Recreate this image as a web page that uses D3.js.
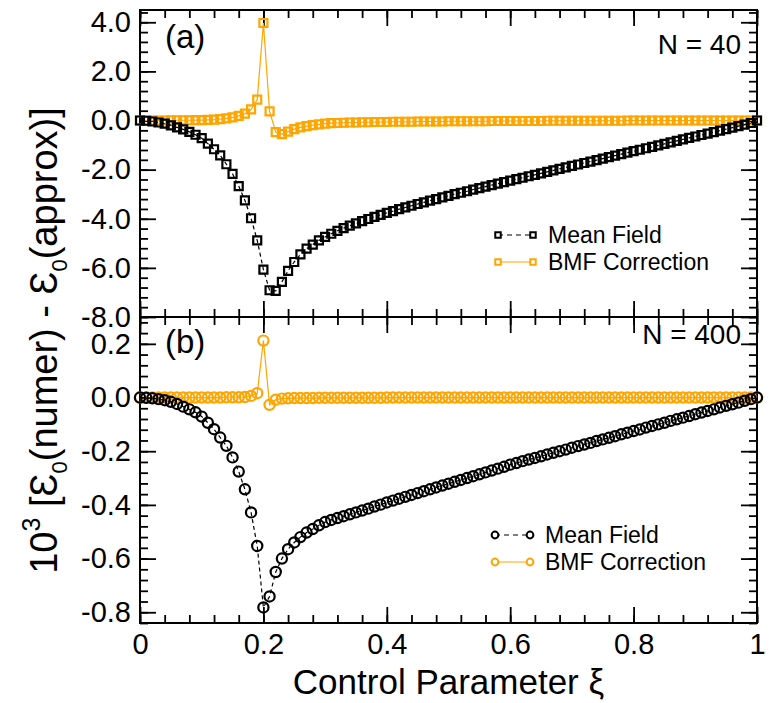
<!DOCTYPE html>
<html>
<head>
<meta charset="utf-8">
<script src="https://cdn.jsdelivr.net/npm/d3@7"></script>
<style>
body { margin: 0; background: #fff; }
text { font-family: "Liberation Sans", Arial, sans-serif; fill: #000; }
</style>
</head>
<body>
<svg id="vis"></svg>
<script>
// control parameter grid, 0 .. 1 in steps of 0.01
var xi = d3.range(0, 101).map(function (i) { return i / 100; });

// panel (a), N = 40
var meanField40 = [
    0, -0.01, -0.04, -0.08, -0.13, -0.20, -0.28, -0.36, -0.46, -0.58,
    -0.72, -0.94, -1.17, -1.42, -1.78, -2.17, -2.67, -3.25, -3.98, -4.88,
    -6.07, -6.91, -6.94, -6.57, -6.12, -5.76, -5.45, -5.22, -5.05, -4.88,
    -4.74, -4.61, -4.49, -4.38, -4.28, -4.19, -4.10, -4.01, -3.92, -3.84,
    -3.76, -3.69, -3.61, -3.54, -3.47, -3.40, -3.33, -3.26, -3.20, -3.13,
    -3.07, -3.00, -2.94, -2.88, -2.81, -2.75, -2.69, -2.63, -2.57, -2.51,
    -2.45, -2.39, -2.33, -2.27, -2.21, -2.15, -2.09, -2.03, -1.97, -1.91,
    -1.85, -1.79, -1.73, -1.67, -1.61, -1.55, -1.49, -1.43, -1.37, -1.31,
    -1.25, -1.19, -1.13, -1.07, -1.01, -0.95, -0.89, -0.83, -0.77, -0.71,
    -0.65, -0.59, -0.53, -0.47, -0.41, -0.35, -0.29, -0.23, -0.17, -0.10,
    0
];
var bmf40 = [
    0, 0, 0, 0, 0, 0.01, 0.01, 0.01, 0.01, 0.02,
    0.02, 0.03, 0.04, 0.06, 0.09, 0.13, 0.19, 0.28, 0.45, 0.85,
    3.97, 0.37, -0.47, -0.55, -0.45, -0.35, -0.28, -0.23, -0.19, -0.16,
    -0.13, -0.11, -0.10, -0.09, -0.08, -0.08, -0.07, -0.07, -0.06, -0.06,
    -0.06, -0.05, -0.05, -0.05, -0.05, -0.04, -0.04, -0.04, -0.04, -0.04,
    -0.03, -0.03, -0.03, -0.03, -0.03, -0.03, -0.03, -0.02, -0.02, -0.02,
    -0.02, -0.02, -0.02, -0.02, -0.02, -0.02, -0.01, -0.01, -0.01, -0.01,
    -0.01, -0.01, -0.01, -0.01, -0.01, -0.01, -0.01, -0.01, -0.01, 0,
    0, 0, 0, 0, 0, 0, 0, 0, 0, 0,
    0, 0, 0, 0, 0, 0, 0, 0, 0, 0,
    0
];

// panel (b), N = 400
var meanField400 = [
    0, -0.001, -0.003, -0.006, -0.010, -0.016, -0.024, -0.034, -0.044, -0.055,
    -0.071, -0.094, -0.118, -0.149, -0.180, -0.223, -0.276, -0.342, -0.428, -0.553,
    -0.782, -0.741, -0.650, -0.600, -0.565, -0.540, -0.520, -0.503, -0.490, -0.476,
    -0.464, -0.456, -0.449, -0.442, -0.435, -0.428, -0.421, -0.414, -0.406, -0.399,
    -0.391, -0.384, -0.377, -0.370, -0.363, -0.356, -0.349, -0.342, -0.335, -0.328,
    -0.321, -0.314, -0.307, -0.300, -0.293, -0.286, -0.279, -0.272, -0.265, -0.258,
    -0.250, -0.244, -0.237, -0.231, -0.225, -0.219, -0.212, -0.206, -0.200, -0.194,
    -0.187, -0.181, -0.175, -0.169, -0.162, -0.156, -0.150, -0.144, -0.137, -0.131,
    -0.125, -0.119, -0.112, -0.106, -0.100, -0.094, -0.087, -0.081, -0.075, -0.069,
    -0.062, -0.056, -0.050, -0.044, -0.037, -0.031, -0.025, -0.019, -0.012, -0.006,
    0
];
var bmf400 = [
    0, 0, 0, 0, 0, 0, 0, 0, 0, 0,
    0, 0, 0, 0, 0.001, 0.001, 0.001, 0.002, 0.006, 0.016,
    0.212, -0.027, -0.008, -0.004, -0.003, -0.002, -0.002, -0.002, -0.002, -0.001,
    -0.001, -0.001, -0.001, -0.001, -0.001, -0.001, -0.001, -0.001, -0.001, -0.001,
    0, 0, 0, 0, 0, 0, 0, 0, 0, 0,
    0, 0, 0, 0, 0, 0, 0, 0, 0, 0,
    0, 0, 0, 0, 0, 0, 0, 0, 0, 0,
    0, 0, 0, 0, 0, 0, 0, 0, 0, 0,
    0, 0, 0, 0, 0, 0, 0, 0, 0, 0,
    0, 0, 0, 0, 0, 0, 0, 0, 0, 0,
    0
];

// ticks and labels
var xTicks = [0, 0.2, 0.4, 0.6, 0.8, 1];
var yTicksTop = [4, 2, 0, -2, -4, -6, -8];
var yTicksBot = [0.2, 0, -0.2, -0.4, -0.6, -0.8];
var seriesNames = ["Mean Field", "BMF Correction"];
var seriesColors = ["#000000", "#FFA500"];

var width = 774, height = 703;
var pLeft = 140, pRight = 757, pTop = 10, pMid = 317, pBottom = 623;

var svg = d3.select("#vis")
    .attr("width", width)
    .attr("height", height);

var fmt = d3.formatLocale({decimal: ".", thousands: ",", grouping: [3], currency: ["", ""], minus: "-"}).format(".1f");

var xScale = d3.scaleLinear().domain([0, 1]).range([pLeft, pRight]);
var yTop = d3.scaleLinear().domain([-8, 4.5]).range([pMid, pTop]);
var yBot = d3.scaleLinear().domain([-0.84, 0.3]).range([pBottom, pMid]);

var xMinor = d3.range(0, 26).map(function (i) { return i * 0.04; });
var yMinorTop = d3.range(0, 32).map(function (i) { return -8 + i * 0.4; });
var yMinorBot = d3.range(0, 29).map(function (i) { return -0.84 + i * 0.04; });

function styleAxis(g) {
    g.select(".domain").remove();
    g.selectAll("line").attr("stroke", "#000").attr("stroke-width", 1.8);
    g.attr("font-size", 29).attr("font-family", "Liberation Sans, Arial, sans-serif");
}

function drawPanel(yScale, y0, y1, yTicks, yMinor, showX) {
    // minor ticks, all four sides
    svg.append("g").attr("transform", "translate(" + pLeft + ",0)")
        .call(d3.axisLeft(yScale).tickValues(yMinor).tickSize(-8).tickFormat(""))
        .call(styleAxis);
    svg.append("g").attr("transform", "translate(" + pRight + ",0)")
        .call(d3.axisRight(yScale).tickValues(yMinor).tickSize(-8).tickFormat(""))
        .call(styleAxis);
    svg.append("g").attr("transform", "translate(0," + y1 + ")")
        .call(d3.axisBottom(xScale).tickValues(xMinor).tickSize(-8).tickFormat(""))
        .call(styleAxis);
    svg.append("g").attr("transform", "translate(0," + y0 + ")")
        .call(d3.axisTop(xScale).tickValues(xMinor).tickSize(-8).tickFormat(""))
        .call(styleAxis);

    // major ticks
    svg.append("g").attr("transform", "translate(" + pLeft + ",0)")
        .call(d3.axisLeft(yScale).tickValues(yTicks).tickSize(-16).tickPadding(9).tickFormat(fmt))
        .call(styleAxis);
    svg.append("g").attr("transform", "translate(" + pRight + ",0)")
        .call(d3.axisRight(yScale).tickValues(yTicks).tickSize(-16).tickFormat(""))
        .call(styleAxis);
    svg.append("g").attr("transform", "translate(0," + y1 + ")")
        .call(d3.axisBottom(xScale).tickValues(xTicks).tickSize(-16).tickPadding(10)
            .tickFormat(function (d) {
                if (!showX) return "";
                return (d === 0 || d === 1) ? String(d) : d.toFixed(1);
            }))
        .call(styleAxis);
    svg.append("g").attr("transform", "translate(0," + y0 + ")")
        .call(d3.axisTop(xScale).tickValues(xTicks).tickSize(-16).tickFormat(""))
        .call(styleAxis);

    svg.append("rect")
        .attr("x", pLeft).attr("y", y0)
        .attr("width", pRight - pLeft).attr("height", y1 - y0)
        .attr("fill", "none").attr("stroke", "#000").attr("stroke-width", 2);
}

function drawSeries(yScale, values, color, dashed, shape) {
    var line = d3.line()
        .x(function (d, i) { return xScale(xi[i]); })
        .y(function (d) { return yScale(d); });

    svg.append("path")
        .datum(values)
        .attr("d", line)
        .attr("fill", "none")
        .attr("stroke", color)
        .attr("stroke-width", 1.2)
        .attr("stroke-dasharray", dashed ? "4,3" : null);

    var sym = d3.symbol().type(shape === "square" ? d3.symbolSquare : d3.symbolCircle)
        .size(shape === "square" ? 64 : 82);

    svg.append("g").selectAll("path")
        .data(values)
        .enter().append("path")
        .attr("d", sym)
        .attr("transform", function (d, i) {
            return "translate(" + xScale(xi[i]) + "," + yScale(d) + ")";
        })
        .attr("fill", "none")
        .attr("stroke", color)
        .attr("stroke-width", 2.2);
}

function drawLegend(x0, y0, shape) {
    var legend = svg.selectAll(".legend-" + shape)
        .data(seriesNames)
        .enter().append("g")
        .attr("class", "legend-" + shape)
        .attr("transform", function (d, i) {
            return "translate(" + x0 + "," + (y0 + i * 27) + ")";
        });

    legend.append("line")
        .attr("x1", 0).attr("x2", 35)
        .attr("stroke", function (d, i) { return seriesColors[i]; })
        .attr("stroke-width", 1.2)
        .attr("stroke-dasharray", function (d, i) { return i === 0 ? "5,4" : null; });

    var sym = d3.symbol().type(shape === "square" ? d3.symbolSquare : d3.symbolCircle)
        .size(shape === "square" ? 30 : 36);

    [0, 35].forEach(function (px) {
        legend.append("path")
            .attr("d", sym)
            .attr("transform", "translate(" + px + ",0)")
            .attr("fill", "#fff")
            .attr("stroke", function (d, i) { return seriesColors[i]; })
            .attr("stroke-width", 2);
    });

    legend.append("text")
        .attr("x", 50)
        .attr("y", 8)
        .attr("font-size", 23)
        .text(function (d) { return d; });
}

drawPanel(yTop, pTop, pMid, yTicksTop, yMinorTop, false);
drawPanel(yBot, pMid, pBottom, yTicksBot, yMinorBot, true);

drawSeries(yTop, bmf40, seriesColors[1], false, "square");
drawSeries(yTop, meanField40, seriesColors[0], true, "square");
drawSeries(yBot, bmf400, seriesColors[1], false, "circle");
drawSeries(yBot, meanField400, seriesColors[0], true, "circle");

drawLegend(498, 235, "square");
drawLegend(495, 535, "circle");

// panel labels
svg.append("text").attr("x", 165).attr("y", 48).attr("font-size", 33).text("(a)");
svg.append("text").attr("x", 165).attr("y", 353).attr("font-size", 33).text("(b)");
svg.append("text").attr("x", 741).attr("y", 54).attr("font-size", 28)
    .style("text-anchor", "end").text("N = 40");
svg.append("text").attr("x", 741).attr("y", 344).attr("font-size", 28)
    .style("text-anchor", "end").text("N = 400");

// axis titles
svg.append("text")
    .attr("x", (pLeft + pRight) / 2)
    .attr("y", 694)
    .attr("font-size", 35)
    .style("text-anchor", "middle")
    .text("Control Parameter \u03BE");

var yTitle = svg.append("text")
    .attr("transform", "translate(57," + ((pTop + pBottom) / 2 + 24) + ") rotate(-90)")
    .attr("font-size", 38)
    .style("text-anchor", "middle");
yTitle.append("tspan").text("10");
yTitle.append("tspan").attr("font-size", 25).attr("dy", -17).text("3");
yTitle.append("tspan").attr("dy", 17).text(" [\u0190");
yTitle.append("tspan").attr("font-size", 22).attr("dy", 10).text("0");
yTitle.append("tspan").attr("dy", -10).text("(numer) - \u0190");
yTitle.append("tspan").attr("font-size", 22).attr("dy", 10).text("0");
yTitle.append("tspan").attr("dy", -10).text("(approx)]");
</script>
</body>
</html>
